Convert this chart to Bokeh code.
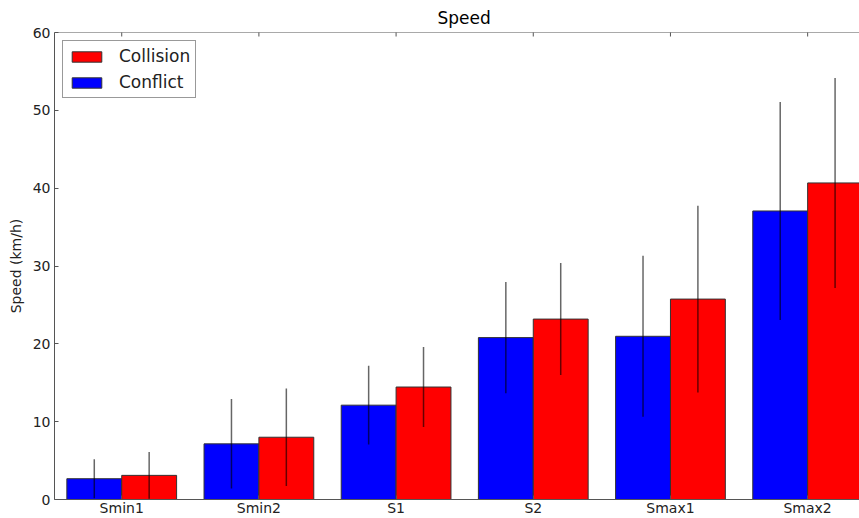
import math
from bokeh.plotting import figure
from bokeh.models import Range1d, FixedTicker, ColumnDataSource, Legend, LegendItem, Span
from bokeh.embed import file_html
from bokeh.resources import INLINE

categories = ["Smin1", "Smin2", "S1", "S2", "Smax1", "Smax2"]
conflict_mean = [2.67, 7.15, 12.12, 20.8, 20.97, 37.07]
conflict_err = [2.5, 5.75, 5.05, 7.15, 10.35, 14.0]
collision_mean = [3.1, 8.0, 14.45, 23.18, 25.75, 40.67]
collision_err = [3.0, 6.25, 5.15, 7.2, 12.0, 13.5]
yticks = [0, 10, 20, 30, 40, 50, 60]
y_max = 60

FONT = "DejaVu Sans"
BAR_W = 0.4
SPINE = "#555555"
idx = list(range(len(categories)))

def make_source(means, errs, shift):
    xs = [i + shift for i in idx]
    return ColumnDataSource(dict(
        x=xs, top=means,
        lo=[m - e for m, e in zip(means, errs)],
        hi=[m + e for m, e in zip(means, errs)],
    ))

src_conf = make_source(conflict_mean, conflict_err, -BAR_W / 2)
src_coll = make_source(collision_mean, collision_err, BAR_W / 2)

p = figure(width=859, height=518, output_backend="svg", toolbar_location=None,
           x_range=Range1d(-0.49, 5.378), y_range=Range1d(0, y_max),
           min_border_left=54, min_border_right=0, min_border_top=0, min_border_bottom=0)

p.title.text = "Speed"
p.title.align = "left"
p.title.offset = 383
p.title.text_font = FONT
p.title.text_font_size = "17px"
p.title.text_font_style = "normal"
p.title.text_color = "#000000"

p.xgrid.visible = False
p.ygrid.visible = False
p.outline_line_color = None
p.background_fill_color = "white"
p.border_fill_color = "white"

r_conf = p.vbar(x="x", top="top", width=BAR_W, bottom=0, source=src_conf,
                fill_color="#0000ff", line_color="#333333", line_width=1)
r_coll = p.vbar(x="x", top="top", width=BAR_W, bottom=0, source=src_coll,
                fill_color="#ff0000", line_color="#333333", line_width=1)

for src in (src_conf, src_coll):
    p.segment(x0="x", y0="lo", x1="x", y1="hi", source=src,
              line_color="black", line_alpha=0.6, line_width=1.5)

# top spine with inward ticks at the category positions
p.add_layout(Span(location=y_max, dimension="width", line_color=SPINE, line_width=1))
p.scatter(x=idx, y=[y_max] * len(idx), marker="dash", angle=math.pi / 2, size=8,
          line_color=SPINE, line_width=1)

xa = p.xaxis[0]
xa.ticker = FixedTicker(ticks=idx)
xa.major_label_overrides = {i: c for i, c in zip(idx, categories)}
xa.major_label_text_font = FONT
xa.major_label_text_font_size = "14px"
xa.major_label_text_color = "#222222"
xa.major_tick_in = 4
xa.major_tick_out = 0
xa.minor_tick_line_color = None
xa.axis_line_color = SPINE
xa.major_tick_line_color = SPINE
xa.major_label_standoff = 0
xa.axis_label_standoff = 0

ya = p.yaxis[0]
ya.ticker = FixedTicker(ticks=yticks)
ya.major_label_text_font = FONT
ya.major_label_text_font_size = "14px"
ya.major_label_text_color = "#222222"
ya.major_tick_in = 4
ya.major_tick_out = 0
ya.minor_tick_line_color = None
ya.axis_line_color = SPINE
ya.major_tick_line_color = SPINE
ya.major_label_standoff = 4
ya.axis_label = "Speed (km/h)"
ya.axis_label_text_font = FONT
ya.axis_label_text_font_size = "14px"
ya.axis_label_text_font_style = "normal"
ya.axis_label_text_color = "#222222"
ya.axis_label_standoff = 6

legend = Legend(items=[LegendItem(label="Collision", renderers=[r_coll]),
                       LegendItem(label="Conflict", renderers=[r_conf])],
                location="top_left")
legend.label_text_font = FONT
legend.label_text_font_size = "17px"
legend.label_text_color = "#222222"
legend.glyph_width = 37
legend.glyph_height = 13
legend.label_height = 19
legend.label_standoff = 14
legend.spacing = 6
legend.padding = 5
legend.margin = 8
legend.border_line_color = "#333333"
legend.border_line_width = 1
legend.background_fill_alpha = 1.0
p.add_layout(legend, "center")

open("out.html", "w").write(file_html(p, INLINE))
